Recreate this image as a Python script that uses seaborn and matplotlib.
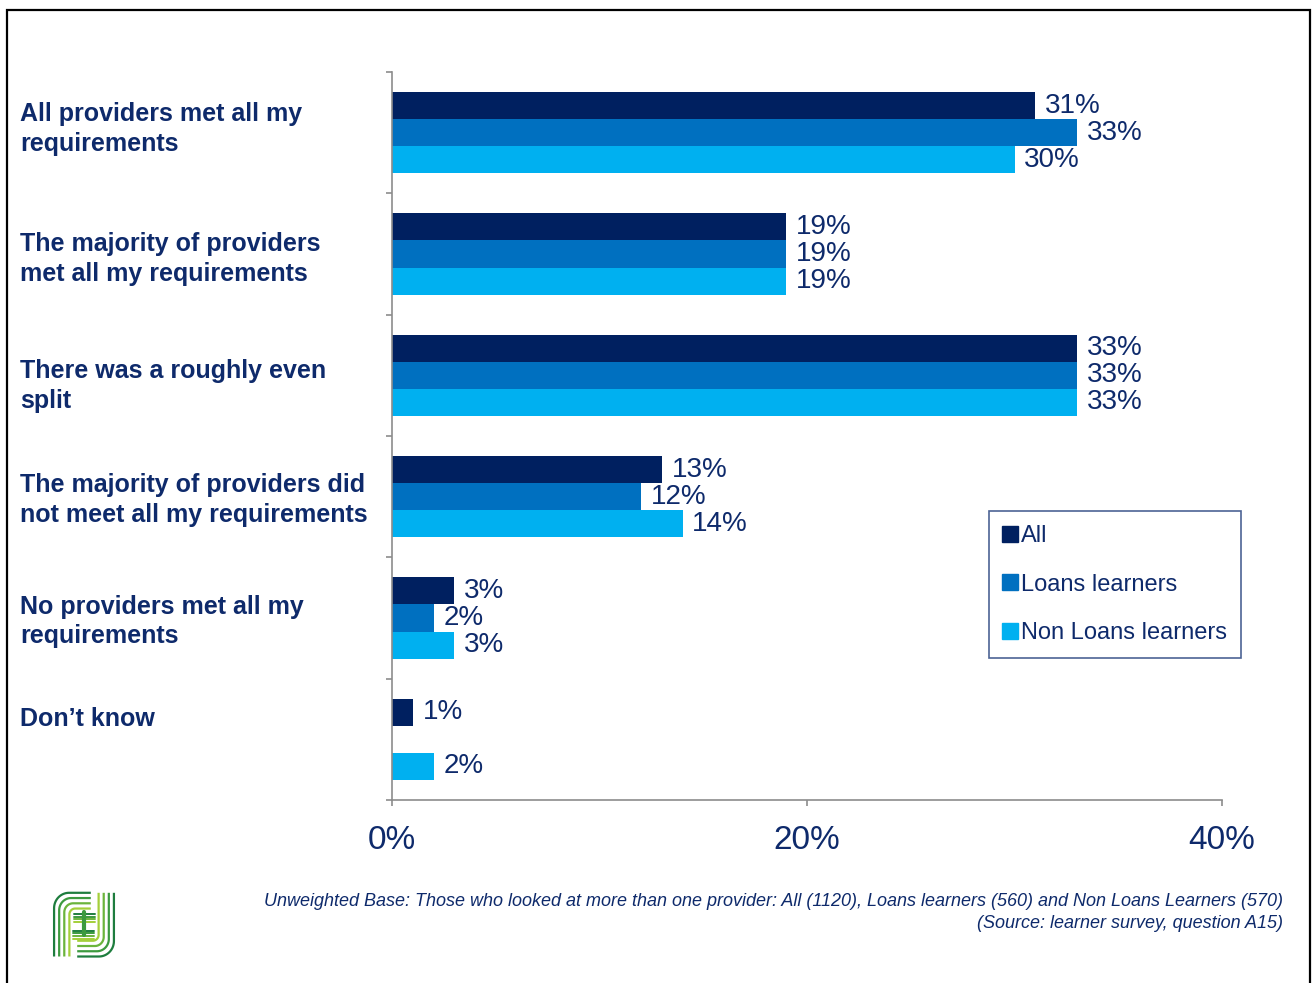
import numpy as np
import pandas as pd
import matplotlib
matplotlib.use("Agg")
import matplotlib.pyplot as plt
import matplotlib.patches as mpatches
import matplotlib.transforms as mtransforms
from matplotlib.lines import Line2D
from matplotlib.ticker import FixedLocator
import seaborn as sns

sns.set_theme(style="white")
plt.rcParams["font.family"] = ["Liberation Sans", "DejaVu Sans"]

categories = [
    "All providers met all my\nrequirements",
    "The majority of providers\nmet all my requirements",
    "There was a roughly even\nsplit",
    "The majority of providers did\nnot meet all my requirements",
    "No providers met all my\nrequirements",
    "Don\u2019t know",
]
series = ["All", "Loans learners", "Non Loans learners"]
all_vals = [31, 19, 33, 13, 3, 1]
loans_vals = [33, 19, 33, 12, 2, np.nan]
non_loans_vals = [30, 19, 33, 14, 3, 2]
x_ticks = [0, 20, 40]
x_ticklabels = ["0%", "20%", "40%"]
footnote = ("Unweighted Base: Those who looked at more than one provider: All (1120), "
            "Loans learners (560) and Non Loans Learners (570)")
source = "(Source: learner survey, question A15)"

colors = ["#002060", "#0070C0", "#00B0F0"]
text_color = "#0E2A6B"
spine_color = "#8C8C8C"

df = pd.DataFrame({
    "category": categories * 3,
    "series": [s for s in series for _ in categories],
    "value": all_vals + loans_vals + non_loans_vals,
})

W, H = 1312, 983
fig = plt.figure(figsize=(W / 100, H / 100), dpi=100)
ax = fig.add_axes([392 / W, 1 - 800 / H, (1222 - 392) / W, (800 - 72) / H])

sns.barplot(data=df, y="category", x="value", hue="series", order=categories,
            hue_order=series, palette=colors, orient="h", width=0.67,
            saturation=1, edgecolor="none", linewidth=0, ax=ax, legend=False,
            errorbar=None)

ax.set_xlim(0, 40)
ax.set_ylim(len(categories) - 0.5, -0.5)
ax.set_xlabel("")
ax.set_ylabel("")

# value labels at the end of each bar
for cont in ax.containers:
    labels = []
    for bar in cont:
        w = bar.get_width()
        labels.append("" if (w is None or np.isnan(w) or w == 0) else f"{w:.0f}%")
    ax.bar_label(cont, labels=labels, padding=7, fontsize=20, color=text_color)

# axes styling
for side in ["top", "right"]:
    ax.spines[side].set_visible(False)
for side in ["left", "bottom"]:
    ax.spines[side].set_color(spine_color)
    ax.spines[side].set_linewidth(1.2)

ax.set_xticks(x_ticks)
ax.set_xticklabels(x_ticklabels, fontsize=24, color=text_color)
ax.tick_params(axis="x", direction="out", length=4, width=1.2, color=spine_color,
               pad=14, bottom=True)

ax.set_yticks([])
ax.yaxis.set_minor_locator(FixedLocator(np.arange(-0.5, len(categories), 1.0)))
ax.tick_params(axis="y", which="minor", direction="out", length=4, width=1.2,
               color=spine_color, left=True)
ax.set_yticklabels([])

# category labels on the left, set slightly off the group centres
label_shift = [-0.03, 0.04, 0.09, 0.03, 0.03, -0.17]
trans = mtransforms.blended_transform_factory(fig.transFigure, ax.transData)
for i, cat in enumerate(categories):
    ax.text(20 / W, i + label_shift[i], cat, transform=trans, ha="left", va="center",
            fontsize=18, fontweight="bold", color=text_color, linespacing=1.3,
            clip_on=False)

# legend
handles = [Line2D([0], [0], marker="s", linestyle="none", markersize=11,
                  markerfacecolor=c, markeredgecolor=c) for c in colors]
leg = ax.legend(handles, series, loc="upper left",
                bbox_to_anchor=((989 - 392) / (1222 - 392), 1 - (511 - 72) / (800 - 72)),
                frameon=True, fancybox=False, fontsize=17, labelcolor=text_color,
                handlelength=0.6, handletextpad=0.15, labelspacing=1.12,
                borderpad=0.6, borderaxespad=0)
leg.get_frame().set_edgecolor("#1F3C7A")
leg.get_frame().set_linewidth(1.2)

# footnote
fig.text(1283 / W, 1 - 902 / H, footnote, ha="right", va="center", fontsize=13,
         style="italic", color=text_color)
fig.text(1283 / W, 1 - 924 / H, source, ha="right", va="center", fontsize=13,
         style="italic", color=text_color)

# page border
fig.patches.append(mpatches.Rectangle((7 / W, -0.05), (1310 - 7) / W, 1 - 10 / H + 0.05,
                                      transform=fig.transFigure, fill=False,
                                      edgecolor="black", linewidth=1.6))

# logo: stylised interlocking strokes in a green gradient
lax = fig.add_axes([50 / W, 1 - 960 / H, 68 / W, 70 / H])
lax.set_xlim(0, 10)
lax.set_ylim(0, 10)
lax.axis("off")
greens = ["#1E7D3E", "#3C9A3F", "#6BB43C", "#A4CF3A"]
t = np.linspace(0, np.pi / 2, 20)
for k, g in enumerate(greens):
    d = k * 0.75
    r = max(2.2 - d * 0.6, 0.5)
    # upper-left hook
    cx, cy = 0.6 + d + r, 9.6 - d - r
    xs = np.concatenate([[0.6 + d], cx - r * np.cos(t), [6.0]])
    ys = np.concatenate([[0.5], cy + r * np.sin(t), [9.6 - d]])
    lax.plot(xs, ys, color=g, lw=1.6, solid_capstyle="butt")
    # lower-right hook
    cx2, cy2 = 9.4 - d - r, 0.5 + d + r
    xs2 = np.concatenate([[9.4 - d], cx2 + r * np.cos(t), [4.0]])
    ys2 = np.concatenate([[9.6], cy2 - r * np.sin(t), [0.5 + d]])
    lax.plot(xs2, ys2, color=g, lw=1.6, solid_capstyle="butt")
    # middle bars
    lax.plot([3.6, 6.6], [6.6 - k * 0.4, 6.6 - k * 0.4], color=g, lw=1.4)
    lax.plot([3.4, 6.4], [4.2 - k * 0.4, 4.2 - k * 0.4], color=g, lw=1.4)
lax.plot([5.0, 5.0], [3.6, 6.8], color="#3C9A3F", lw=3)

fig.savefig("out.png", dpi=100, facecolor="white")
